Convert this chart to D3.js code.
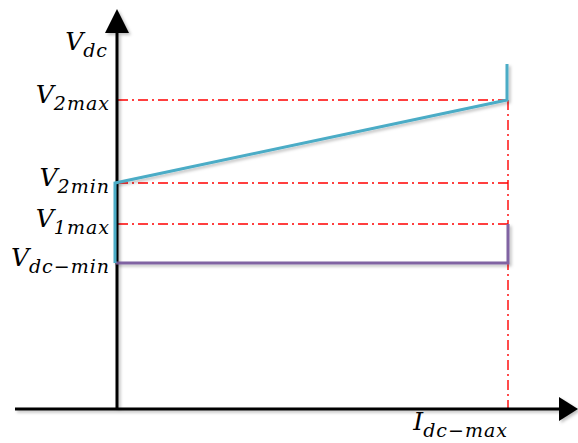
<!DOCTYPE html>
<html>
<head>
<meta charset="utf-8">
<script src="https://cdn.jsdelivr.net/npm/d3@7"></script>
<style>
  body { margin: 0; background: #fff; }
  svg { display: block; }
  .lbl { font-family: "DejaVu Serif", "Liberation Serif", serif; font-style: italic; fill: #000; }
</style>
</head>
<body>
<script>
// Levels on the voltage axis (arbitrary units)
const levelNames = ["dc-min", "1max", "2min", "2max"];
const levelValues = [146, 185, 226, 309];
// Dash-dot reference lines are drawn for these levels
const refLevels = ["1max", "2min", "2max"];

// Current axis: 0 and I_dc-max
const currentValues = [0, 1];

// Cyan curve (V2 range) and purple curve (V1 range)
const cyanX = [0, 0, 1, 1];
const cyanY = [146, 226, 309, 345];
const purpleX = [0, 1, 1];
const purpleY = [146, 146, 185];

const W = 578, H = 443;

const x = d3.scaleLinear().domain([0, 1]).range([116, 508]);
const y = d3.scaleLinear().domain([0, 400]).range([409, 9]);

const svg = d3.select("body").append("svg")
    .attr("width", W)
    .attr("height", H);

// soft shadow like the office drawing
const defs = svg.append("defs");
defs.append("filter")
    .attr("id", "shadow")
    .attr("x", "-20%").attr("y", "-20%")
    .attr("width", "140%").attr("height", "140%")
    .append("feDropShadow")
    .attr("dx", 2).attr("dy", 2)
    .attr("stdDeviation", 1.5)
    .attr("flood-color", "#000")
    .attr("flood-opacity", 0.25);

const levelY = name => y(levelValues[levelNames.indexOf(name)]);

// ----- red dash-dot guides -----
svg.selectAll(".ref")
    .data(refLevels)
    .enter().append("line")
    .attr("class", "ref")
    .attr("x1", x(0) + 2)
    .attr("x2", x(1))
    .attr("y1", d => levelY(d))
    .attr("y2", d => levelY(d))
    .attr("stroke", "#ff0000")
    .attr("stroke-width", 1.4)
    .attr("stroke-dasharray", "10,4,2,4");

svg.append("line")
    .attr("x1", x(1)).attr("x2", x(1))
    .attr("y1", levelY("2max"))
    .attr("y2", y(0))
    .attr("stroke", "#ff0000")
    .attr("stroke-width", 1.4)
    .attr("stroke-dasharray", "10,4,2,4");

// ----- axes -----
const axes = svg.append("g").attr("filter", "url(#shadow)");

axes.append("line")
    .attr("x1", 15).attr("x2", 562)
    .attr("y1", y(0)).attr("y2", y(0))
    .attr("stroke", "#000").attr("stroke-width", 3);
axes.append("path")
    .attr("d", d3.line()([[559, y(0) - 12], [578, y(0)], [559, y(0) + 12]]) + "Z")
    .attr("fill", "#000");

axes.append("line")
    .attr("x1", x(0) + 1).attr("x2", x(0) + 1)
    .attr("y1", y(0) + 1).attr("y2", 30)
    .attr("stroke", "#000").attr("stroke-width", 3);
axes.append("path")
    .attr("d", d3.line()([[x(0) - 11, 33], [x(0) + 1, 9], [x(0) + 13, 33]]) + "Z")
    .attr("fill", "#000");

// ----- curves -----
const line = d3.line().x(d => x(d[0])).y(d => y(d[1]));

svg.append("path")
    .datum(purpleX.map((v, i) => [v, purpleY[i]]))
    .attr("d", line)
    .attr("fill", "none")
    .attr("stroke", "#8064a2")
    .attr("stroke-width", 3)
    .attr("filter", "url(#shadow)");

svg.append("path")
    .datum(cyanX.map((v, i) => [v, cyanY[i]]))
    .attr("d", line)
    .attr("fill", "none")
    .attr("stroke", "#4bacc6")
    .attr("stroke-width", 3)
    .attr("transform", "translate(-1,0)")
    .attr("filter", "url(#shadow)");

// ----- labels -----
function subLabel(g, main, sub, xr, yb) {
    const t = g.append("text")
        .attr("class", "lbl")
        .attr("x", xr)
        .attr("y", yb)
        .attr("text-anchor", "end");
    t.append("tspan").attr("font-size", 25).text(main);
    t.append("tspan").attr("font-size", 19).attr("dy", 7)
        .attr("letter-spacing", 1)
        .text(sub.replace("-", "\u2212"));
    return t;
}

levelNames.forEach((name, i) => {
    subLabel(svg, "V", name, x(0) - 6, y(levelValues[i]) + 3);
});
subLabel(svg, "V", "dc", x(0) - 8, 50);
subLabel(svg, "I", "dc-max", x(currentValues[1]), 430);
</script>
</body>
</html>
